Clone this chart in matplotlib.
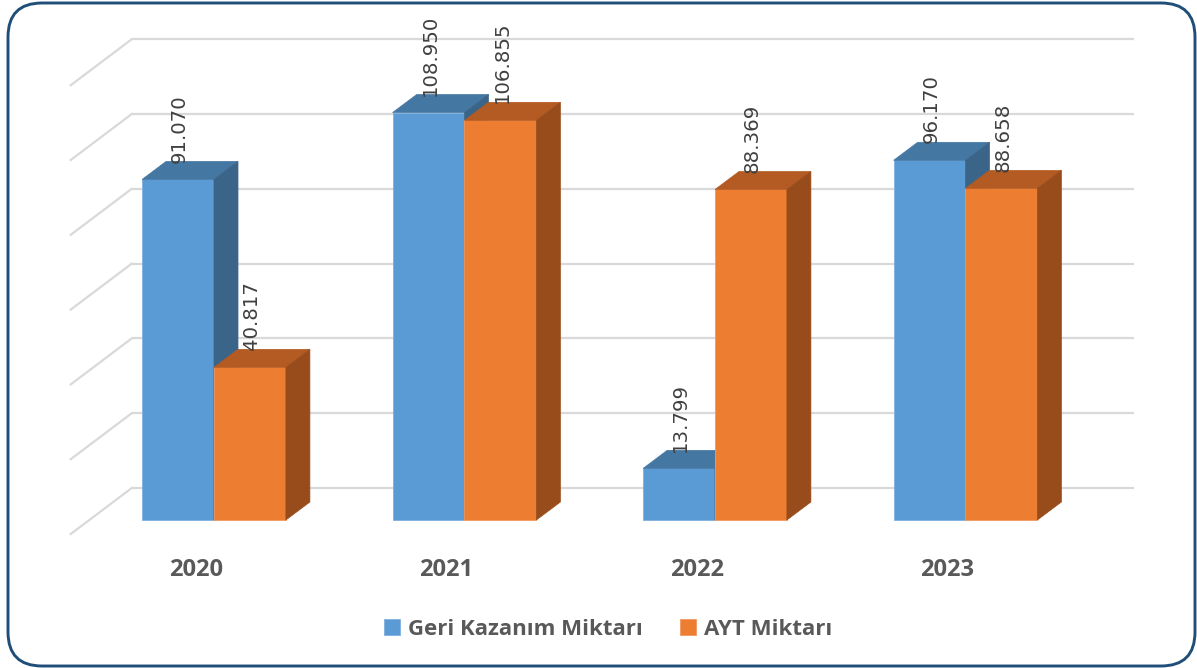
import matplotlib
matplotlib.use('Agg')
import matplotlib.pyplot as plt
from matplotlib.patches import Polygon, FancyBboxPatch
import numpy as np

# ---- data ----
years = ['2020', '2021', '2022', '2023']
geri = [91.070, 108.950, 13.799, 96.170]
ayt = [40.817, 106.855, 88.369, 88.658]
labels_geri = ['91.070', '108.950', '13.799', '96.170']
labels_ayt = ['40.817', '106.855', '88.369', '88.658']
series_names = ['Geri Kazanım Miktarı', 'AYT Miktarı']
grid_values = [0, 20, 40, 60, 80, 100, 120]

# ---- layout / style ----
W, H = 1197, 668
cat_px, val_px = 250.5, 3.74      # pixels per category unit / value unit
x0_px, y0_px = 214, 520           # pixel of category 0 / value 0 (front plane)
bar_w = 0.287
bar_depth = (24 / cat_px, 18 / val_px)
back_off = (43 / cat_px, 32 / val_px)
side_off = (-61 / cat_px, -46 / val_px)

blue = dict(front='#5b9bd5', top='#4577a3', side='#3b6489', edge='#7fb0de')
orange = dict(front='#ed7d31', top='#b35b22', side='#984c1c', edge='#f29a5e')

fig = plt.figure(figsize=(W / 100, H / 100), dpi=100)
ax = fig.add_axes([0, 0, 1, 1])
ax.set_xlim(-x0_px / cat_px, (W - x0_px) / cat_px)
ax.set_ylim(-(H - y0_px) / val_px, y0_px / val_px)
ax.axis('off')

# walls gridlines
n = len(years)
xl, xr = -0.5 + back_off[0], n - 0.5 + back_off[0]
for v in grid_values:
    yb = v + back_off[1]
    ax.plot([xl, xr], [yb, yb], color='#d9d9d9', lw=1.6, zorder=1, solid_capstyle='butt')
    ax.plot([xl, xl + side_off[0]], [yb, yb + side_off[1]], color='#d9d9d9', lw=1.6, zorder=1)

xs = np.arange(n)
handles = []
for k, (vals, labs, col, sign) in enumerate([(geri, labels_geri, blue, -1), (ayt, labels_ayt, orange, 1)]):
    left = xs + (0 if sign > 0 else -bar_w)
    z = 3 + 2 * k
    bc = ax.bar(left, vals, width=bar_w, align='edge', color=col['front'],
                edgecolor=col['edge'], linewidth=0.6, zorder=z)
    handles.append(bc)
    dx, dy = bar_depth
    for x0, v, lab in zip(left, vals, labs):
        x1 = x0 + bar_w
        top = Polygon([(x0, v), (x1, v), (x1 + dx, v + dy), (x0 + dx, v + dy)],
                      closed=True, facecolor=col['top'], edgecolor=col['top'], lw=0.5, zorder=z + 1)
        side = Polygon([(x1, 0), (x1 + dx, dy), (x1 + dx, v + dy), (x1, v)],
                       closed=True, facecolor=col['side'], edgecolor=col['side'], lw=0.5, zorder=z + 1)
        ax.add_patch(top)
        ax.add_patch(side)
        ax.text(x0 + bar_w / 2 + 0.006, v + dy - 0.3, lab, rotation=90, ha='center', va='bottom',
                fontsize=14.2, color='#404040', family='DejaVu Sans', zorder=10)

for i, y in enumerate(years):
    ax.text(i - 0.073, -13.4, y, ha='center', va='center', fontsize=17,
            fontweight='bold', color='#595959', family='Open Sans')

fig.legend(handles=handles, labels=series_names, loc='center',
           bbox_to_anchor=(0.508, 0.058), ncol=2, frameon=False,
           prop=dict(family='Open Sans', weight='bold', size=16), labelcolor='#595959',
           handlelength=0.7, handleheight=0.7, handletextpad=0.35, columnspacing=1.7)

# rounded border
ax2 = fig.add_axes([0, 0, 1, 1])
ax2.set_xlim(0, W)
ax2.set_ylim(H, 0)
ax2.axis('off')
ax2.add_patch(FancyBboxPatch((8, 3), 1187, 663, boxstyle='round,pad=0,rounding_size=34',
                             facecolor='none', edgecolor='#1f4e79', lw=2.1))

fig.savefig('out.png', dpi=100)
